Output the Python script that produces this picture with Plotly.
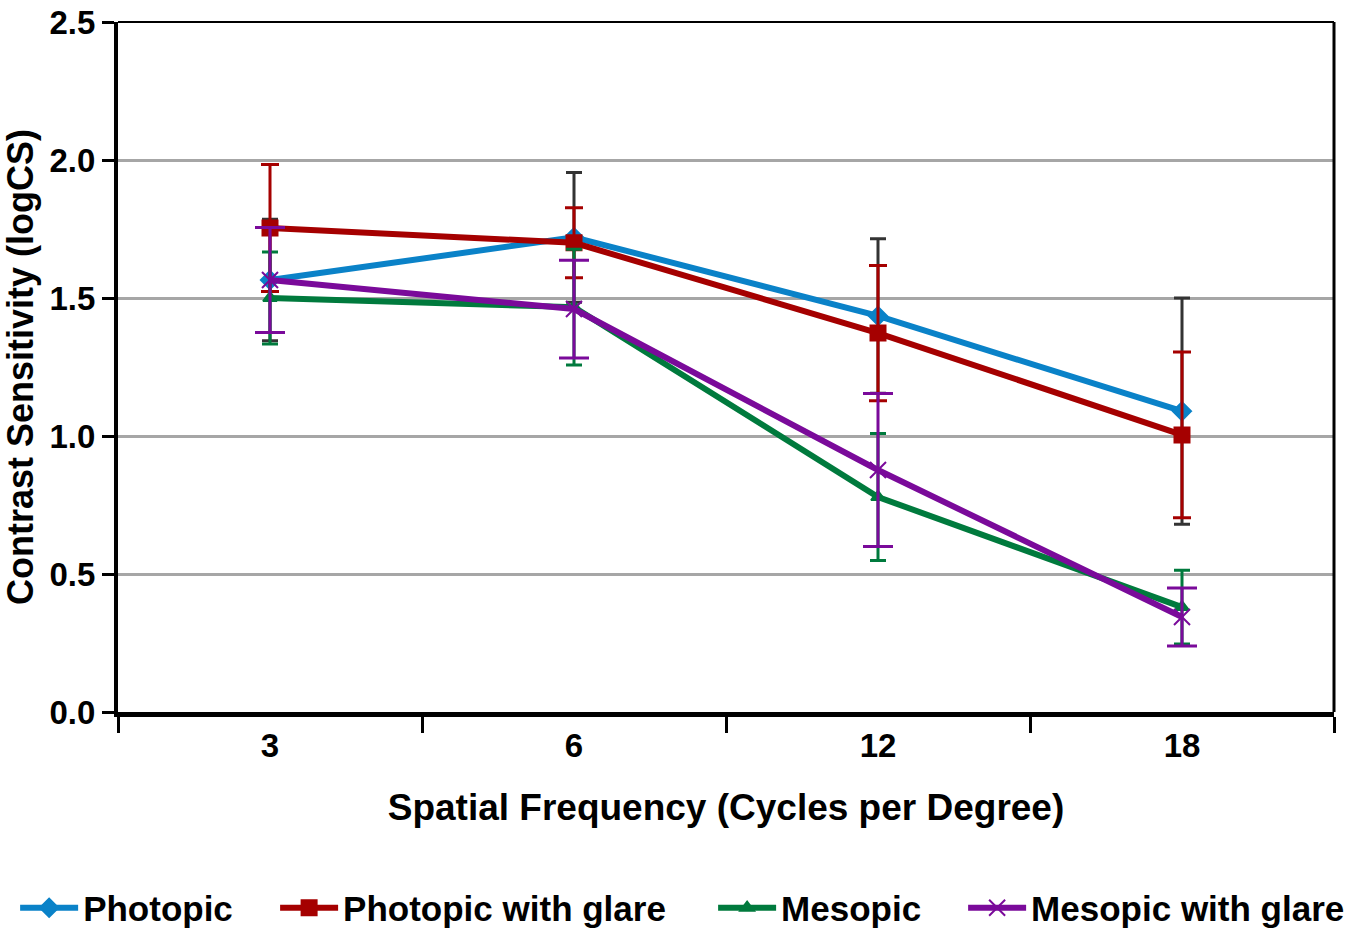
import plotly.graph_objects as go

# Spatial frequencies (cycles per degree)
freqs = ["3", "6", "12", "18"]

# Mean contrast sensitivity (logCS) and standard deviations per condition
photopic = [1.565, 1.72, 1.435, 1.09]
photopic_sd = [0.22, 0.235, 0.28, 0.41]

photopic_glare = [1.754, 1.70, 1.373, 1.004]
photopic_glare_sd = [0.23, 0.127, 0.245, 0.30]

mesopic = [1.50, 1.467, 0.779, 0.38]
mesopic_sd = [0.167, 0.21, 0.23, 0.134]

mesopic_glare = [1.565, 1.46, 0.877, 0.344]
mesopic_glare_sd = [0.19, 0.177, 0.277, 0.105]

y_ticks = [0.0, 0.5, 1.0, 1.5, 2.0, 2.5]

FONT = "Liberation Sans, Arial, sans-serif"

# name, values, sd, line colour, error-bar colour, symbol, marker size, cap half-width
series = [
    ("Photopic", photopic, photopic_sd, "#0A82C8", "#333333", "diamond", 14, 8),
    ("Photopic with glare", photopic_glare, photopic_glare_sd, "#A50000", "#A50000", "square", 15, 9),
    ("Mesopic", mesopic, mesopic_sd, "#007A3D", "#007A3D", "triangle-up", 12, 8),
    ("Mesopic with glare", mesopic_glare, mesopic_glare_sd, "#7A0A9A", "#7A0A9A", "x-thin", 16, 15),
]

# one legend box per series so the entries are spread across the bottom
legend_ids = ["legend", "legend2", "legend3", "legend4"]
legend_x = [-0.0846, 0.1292, 0.4894, 0.6950]

fig = go.Figure()
for (name, vals, sd, color, err_color, symbol, msize, cap), lid in zip(series, legend_ids):
    fig.add_trace(go.Scatter(
        x=freqs, y=vals, name=name, mode="lines+markers", legend=lid,
        line=dict(color=color, width=6),
        marker=dict(symbol=symbol, size=msize, color=color,
                    line=dict(color=color, width=2)),
        error_y=dict(type="data", array=sd, visible=True,
                     color=err_color, thickness=3, width=cap),
    ))

legend_style = dict(orientation="h", xanchor="left", y=-0.284, yanchor="middle",
                    font=dict(family=FONT, size=35, weight="bold"),
                    itemwidth=58, bgcolor="rgba(0,0,0,0)")

fig.update_layout(
    width=1371, height=931,
    margin=dict(l=118, r=37, t=22, b=219, autoexpand=False),
    paper_bgcolor="white", plot_bgcolor="white",
    font=dict(family=FONT, color="black", size=32, weight="bold"),
    showlegend=True,
    **{lid: dict(x=lx, **legend_style) for lid, lx in zip(legend_ids, legend_x)},
)

fig.update_xaxes(
    type="category", range=[-0.5, 3.5],
    showline=True, linecolor="black", linewidth=5,
    ticks="outside", tickson="boundaries", ticklen=16, tickwidth=3, tickcolor="black",
    showgrid=False, zeroline=False,
    tickfont=dict(family=FONT, size=33, weight="bold"),
    title=dict(text="Spatial Frequency (Cycles per Degree)",
               font=dict(family=FONT, size=37, weight="bold"), standoff=33),
)
fig.update_yaxes(
    range=[0, 2.5], tickvals=y_ticks, ticktext=[f"{v:.1f}" for v in y_ticks],
    showline=True, linecolor="black", linewidth=4,
    ticks="outside", ticklen=12, tickwidth=3, tickcolor="black",
    showgrid=True, gridcolor="#A6A6A6", gridwidth=3, zeroline=False,
    tickfont=dict(family=FONT, size=33, weight="bold"),
    title=dict(text="Contrast Sensitivity (logCS)",
               font=dict(family=FONT, size=36, weight="bold"), standoff=8),
)

# frame: thin top edge, heavier right edge
fig.add_shape(type="line", xref="paper", yref="paper", x0=0, x1=1, y0=1, y1=1,
              line=dict(color="black", width=2))
fig.add_shape(type="line", xref="paper", yref="paper", x0=1, x1=1, y0=0, y1=1,
              line=dict(color="black", width=3))

fig.write_html("out.html")
